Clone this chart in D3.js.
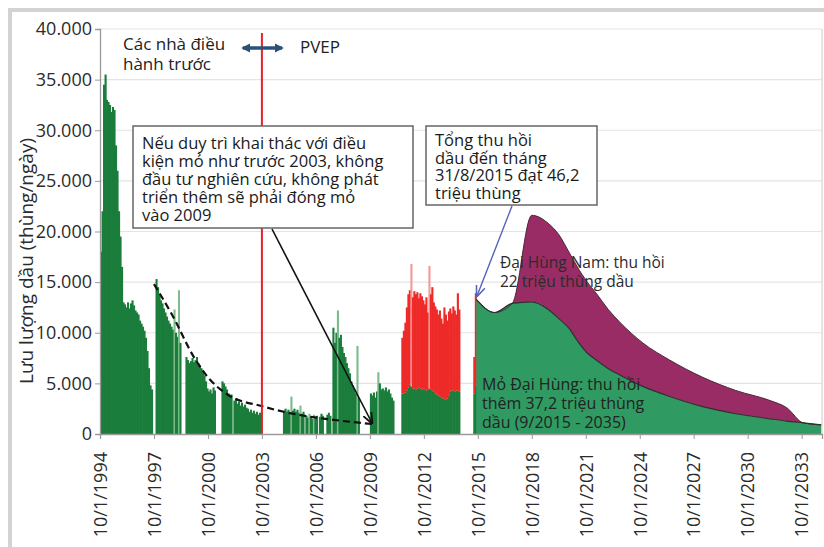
<!DOCTYPE html>
<html>
<head>
<meta charset="utf-8">
<script src="https://cdn.jsdelivr.net/npm/d3@7"></script>
<style>
  body { margin: 0; background: #fff; }
  svg { display: block; font-family: "Open Sans", sans-serif; }
</style>
</head>
<body>
<svg id="chart" width="824" height="547"></svg>
<script>
// monthly production (thùng/ngày), Oct 1994 - Aug 2015, 0 = shut in
const monthStart = new Date(1994, 9, 1);
const greenBars = [
  18000, 22000, 34500, 35500, 33000, 32800, 32500, 31800, 32300, 32000, 28500, 26000,
  22000, 19500, 16500, 13000, 12800, 12500, 13000, 12400, 12900, 13200, 12700, 12200,
  12000, 11800, 11200, 10900, 10600, 10200, 9500, 8200, 6500, 4800, 4400, 0,
  0, 15300, 14500, 13800, 13200, 12900, 12400, 12000, 11600, 11200, 10900, 10600,
  10300, 12300, 10000, 9600, 14200, 9000, 0, 0, 0, 7600, 7300, 7000,
  7200, 7500, 7100, 7300, 7600, 7000, 6800, 6500, 6200, 5800, 5200, 4500,
  4200, 4400, 4000, 4600, 4300, 0, 0, 0, 0, 5200, 5000, 4700,
  4400, 4000, 3800, 3900, 0, 3300, 3500, 3000, 3200, 2800, 3100, 2700,
  2900, 2600, 2500, 2200, 2400, 2100, 2300, 2000, 2200, 1900, 2100, 2000,
  0, 0, 0, 0, 0, 0, 0, 0, 0, 0, 0, 0,
  0, 0, 2300, 2500, 2200, 2400, 2100, 3700, 2300, 2500, 2200, 2400,
  2100, 2800, 2000, 2200, 0, 1800, 1600, 2000, 1700, 1500, 1900, 1600,
  1800, 0, 1700, 2000, 1800, 0, 0, 1900, 2100, 1800, 0, 10500,
  9000, 10000, 12200, 9500, 9800, 8600, 8000, 7600, 7000, 6500, 6000, 5200,
  4800, 4400, 4000, 8700, 3600, 0, 0, 0, 0, 0, 0, 0,
  4000, 3800, 4100, 3600, 4200, 6100, 5000, 4400, 4500, 4300, 4600, 4200,
  4400, 4000, 3600, 3300, 0, 0, 0, 0, 0, 4000, 4000, 4100,
  4300, 4600, 4900, 4700, 4500, 4500, 4400, 4500, 4600, 4500, 4400, 4500,
  4400, 4300, 4400, 4500, 4400, 4300, 4200, 4000, 3900, 3800, 3700, 3600,
  3500, 3500, 3400, 3500, 3800, 4200, 4300, 4300, 4200, 4300, 4300, 4200,
  0, 0, 0, 0, 0, 0, 0, 0, 0, 4000, 4800
];
// total incl. new wells (red part on top of green), Jul 2011 - Aug 2015
const redStart = new Date(2011, 6, 1);
const redTops = [
  9500, 10200, 11000, 12500, 13800, 14200, 16800, 13500, 14100, 13800, 14000,
  13400, 13900, 13600, 13200, 12800, 13500, 12000, 16600, 13800, 14500, 13000, 12600,
  12300, 11800, 12200, 11400, 10900, 12500, 11800, 11200, 12100, 12400, 11900, 12600,
  12200, 11800, 13900, 12300,
  0, 0, 0, 0, 0, 0, 0, 0, 0,
  7600, 13900
];

// forecast 9/2015 - 2035
const forecastDates = ["2015-09", "2016-09", "2017-09", "2018-10", "2019-09", "2020-04", "2020-11",
  "2021-04", "2021-11", "2022-05", "2023-01", "2023-09", "2024-12", "2026-06", "2028-04",
  "2030-02", "2032-01", "2032-12", "2033-11", "2034-11"];
const forecastDaiHung = [13300, 12000, 12900, 13050, 12300, 11400, 10400, 9300, 8000, 7300,
  6450, 5800, 4700, 3700, 2700, 2000, 1500, 1280, 1100, 900];
const forecastTotal = [13300, 12000, 12900, 21600, 20800, 19700, 17900, 16600, 15000, 13900,
  12300, 11000, 9000, 7300, 5600, 4300, 3300, 2600, 1100, 900];

// decline trend if nothing was done after 2003
const trendDates = ["1997-10", "1998-10", "2000-01", "2000-10", "2001-11", "2003-10", "2005-08", "2007-06", "2009-12"];
const trendValues = [14800, 11800, 7500, 5600, 3900, 2750, 1960, 1470, 980];

const yTicks = [0, 5000, 10000, 15000, 20000, 25000, 30000, 35000, 40000];
const tickYears = [1994, 1997, 2000, 2003, 2006, 2009, 2012, 2015, 2018, 2021, 2024, 2027, 2030, 2033];

const noteLeft = ["Nếu duy trì khai thác với điều", "kiện mỏ như trước 2003, không",
  "đầu tư nghiên cứu, không phát", "triển thêm  sẽ phải đóng mỏ", "vào 2009"];
const noteRight = ["Tổng thu hồi", "dầu đến tháng", "31/8/2015 đạt 46,2", "triệu thùng"];
const noteNam = ["Đại Hùng Nam: thu hồi", "22 triệu thùng dầu"];
const noteMain = ["Mỏ Đại Hùng: thu hồi", "thêm 37,2 triệu thùng", "dầu (9/2015 - 2035)"];

const svg = d3.select("#chart");
const parseMonth = d3.timeParse("%Y-%m");

var x = d3.scaleTime()
  .domain([new Date(1994, 9, 1), new Date(2034, 10, 18)])
  .range([100, 822]);
var y = d3.scaleLinear().domain([0, 40000]).range([434, 29]);

// outer frame
svg.append("rect")
  .attr("x", 10).attr("y", 10).attr("width", 840).attr("height", 560)
  .attr("fill", "none").attr("stroke", "#d3d3d3").attr("stroke-width", 4);

// grid
svg.append("g").selectAll("line")
  .data(yTicks.filter(d => d > 0))
  .enter().append("line")
  .attr("x1", 100).attr("x2", 822)
  .attr("y1", d => y(d)).attr("y2", d => y(d))
  .attr("stroke", "#e4e4e4").attr("stroke-width", 1.2);

svg.append("line")
  .attr("x1", 822).attr("x2", 822).attr("y1", y(40000)).attr("y2", y(0))
  .attr("stroke", "#dcdcdc").attr("stroke-width", 1.5);

// is this bar a spike compared to its neighbours
function isSpike(arr, i) {
  var p = arr[i - 1] || 0, n = arr[i + 1] || 0;
  return arr[i] > 1.15 * Math.max(p, n) && p > 0 && n > 0;
}

var bars = svg.append("g");
greenBars.forEach(function(v, i) {
  if (!v) return;
  var d0 = d3.timeMonth.offset(monthStart, i);
  var x0 = x(d0), x1 = x(d3.timeMonth.offset(d0, 1));
  bars.append("rect")
    .attr("x", x0).attr("width", x1 - x0 + 0.6)
    .attr("y", y(v)).attr("height", y(0) - y(v))
    .attr("fill", isSpike(greenBars, i) ? "#7dbb8c" : "#1b7d3b");
});
var redOffset = d3.timeMonth.count(monthStart, redStart);
redTops.forEach(function(v, i) {
  if (!v) return;
  var g = greenBars[redOffset + i];
  var d0 = d3.timeMonth.offset(redStart, i);
  var x0 = x(d0), x1 = x(d3.timeMonth.offset(d0, 1));
  bars.append("rect")
    .attr("x", x0).attr("width", x1 - x0 + 0.6)
    .attr("y", y(v)).attr("height", y(g) - y(v))
    .attr("fill", isSpike(redTops, i) ? "#f39a9a" : "#ee2a28");
});

// forecast areas
var fc = forecastDates.map(function(d, i) {
  return { date: parseMonth(d), main: forecastDaiHung[i], total: forecastTotal[i] };
});
svg.append("path").datum(fc)
  .attr("d", d3.area().curve(d3.curveMonotoneX)
    .x(d => x(d.date)).y0(d => y(d.main)).y1(d => y(d.total)))
  .attr("fill", "#992c64");
svg.append("path").datum(fc)
  .attr("d", d3.area().curve(d3.curveMonotoneX)
    .x(d => x(d.date)).y0(y(0)).y1(d => y(d.main)))
  .attr("fill", "#2f9a61");
svg.append("path").datum(fc)
  .attr("d", d3.line().curve(d3.curveMonotoneX).x(d => x(d.date)).y(d => y(d.total)))
  .attr("fill", "none").attr("stroke", "#4a2a38").attr("stroke-width", 1);
svg.append("path").datum(fc)
  .attr("d", d3.line().curve(d3.curveMonotoneX).x(d => x(d.date)).y(d => y(d.main)))
  .attr("fill", "none").attr("stroke", "#2f2f2f").attr("stroke-width", 1.2);

// dashed decline trend
svg.append("path")
  .datum(trendDates.map((d, i) => ({ date: parseMonth(d), v: trendValues[i] })))
  .attr("d", d3.line().curve(d3.curveMonotoneX).x(d => x(d.date)).y(d => y(d.v)))
  .attr("fill", "none").attr("stroke", "#111").attr("stroke-width", 2.2)
  .attr("stroke-dasharray", "7,4");

// operator change line
var xChange = x(new Date(2003, 9, 1));
svg.append("line")
  .attr("x1", xChange).attr("x2", xChange).attr("y1", 33).attr("y2", y(0))
  .attr("stroke", "#e8202a").attr("stroke-width", 2);

// axes
var yAxis = svg.append("g")
  .attr("transform", "translate(100,0)")
  .call(d3.axisLeft(y).tickValues(yTicks).tickSize(5).tickPadding(3)
    .tickFormat(d => d3.format(",")(d).replace(/,/g, ".")));
var xAxis = svg.append("g")
  .attr("transform", "translate(0," + y(0) + ")")
  .call(d3.axisBottom(x).tickValues(tickYears.map(yr => new Date(yr, 9, 1)))
    .tickSize(5).tickFormat(d => "10/1/" + d.getFullYear()));
[yAxis, xAxis].forEach(function(a) {
  a.select(".domain").attr("stroke", "#9a9a9a").attr("stroke-width", 1.3);
  a.selectAll(".tick line").attr("stroke", "#9a9a9a");
  a.selectAll("text").attr("fill", "#2b2b2b").style("font-size", "18px")
    .style("font-family", "'Open Sans', sans-serif");
});
xAxis.selectAll("text")
  .attr("transform", "rotate(-90)")
  .attr("text-anchor", "end")
  .attr("x", -18).attr("y", 0).attr("dy", "0.35em");

svg.append("text")
  .attr("transform", "translate(33,261) rotate(-90)")
  .attr("text-anchor", "middle")
  .attr("fill", "#2b2b2b").style("font-size", "19px")
  .text("Lưu lượng dầu (thùng/ngày)");

// operator labels + double arrow
svg.append("defs").html(
  '<marker id="arrBlue" viewBox="0 0 10 10" refX="8" refY="5" markerWidth="2.6" markerHeight="2.6" orient="auto-start-reverse">' +
  '<path d="M0,0 L10,5 L0,10 z" fill="#2b5179"/></marker>' +
  '<marker id="arrBlack" viewBox="0 0 10 10" refX="9" refY="5" markerWidth="7" markerHeight="7" orient="auto">' +
  '<path d="M0,1 L10,5 L0,9" fill="none" stroke="#111" stroke-width="1.6"/></marker>' +
  '<marker id="arrPurple" viewBox="0 0 10 10" refX="9" refY="5" markerWidth="8" markerHeight="8" orient="auto">' +
  '<path d="M0,1 L10,5 L0,9" fill="none" stroke="#5563b8" stroke-width="1.4"/></marker>');

svg.append("line")
  .attr("x1", 243).attr("x2", 282).attr("y1", 48).attr("y2", 48)
  .attr("stroke", "#2b5179").attr("stroke-width", 3.5)
  .attr("marker-start", "url(#arrBlue)").attr("marker-end", "url(#arrBlue)");

function multiline(lines, x0, y0, step, size, color) {
  var t = svg.append("text").attr("fill", color).style("font-size", size + "px");
  lines.forEach(function(l, i) {
    t.append("tspan").attr("x", x0).attr("y", y0 + i * step).text(l);
  });
  return t;
}
multiline(["Các nhà điều", "hành trước"], 123, 50, 20, 17, "#222");
multiline(["PVEP"], 300, 53, 20, 17, "#222");

// callout boxes
svg.append("rect")
  .attr("x", 133).attr("y", 126).attr("width", 280).attr("height", 102)
  .attr("fill", "#fff").attr("stroke", "#666").attr("stroke-width", 1.5);
multiline(noteLeft, 142, 149, 18, 16.5, "#1a1a1a");

svg.append("rect")
  .attr("x", 426).attr("y", 126).attr("width", 171).attr("height", 79)
  .attr("fill", "#fff").attr("stroke", "#666").attr("stroke-width", 1.5);
multiline(noteRight, 435, 146, 17.7, 16.5, "#1a1a1a");

svg.append("line")
  .attr("x1", 272).attr("y1", 229).attr("x2", 372).attr("y2", 423)
  .attr("stroke", "#111").attr("stroke-width", 1.6)
  .attr("marker-end", "url(#arrBlack)");
svg.append("line")
  .attr("x1", 512).attr("y1", 206).attr("x2", 477).attr("y2", 296)
  .attr("stroke", "#5563b8").attr("stroke-width", 1.4)
  .attr("marker-end", "url(#arrPurple)");

multiline(noteNam, 500, 268, 18.5, 15.5, "#2b2b2b");
multiline(noteMain, 482, 390, 19, 16, "#222");
</script>
</body>
</html>
